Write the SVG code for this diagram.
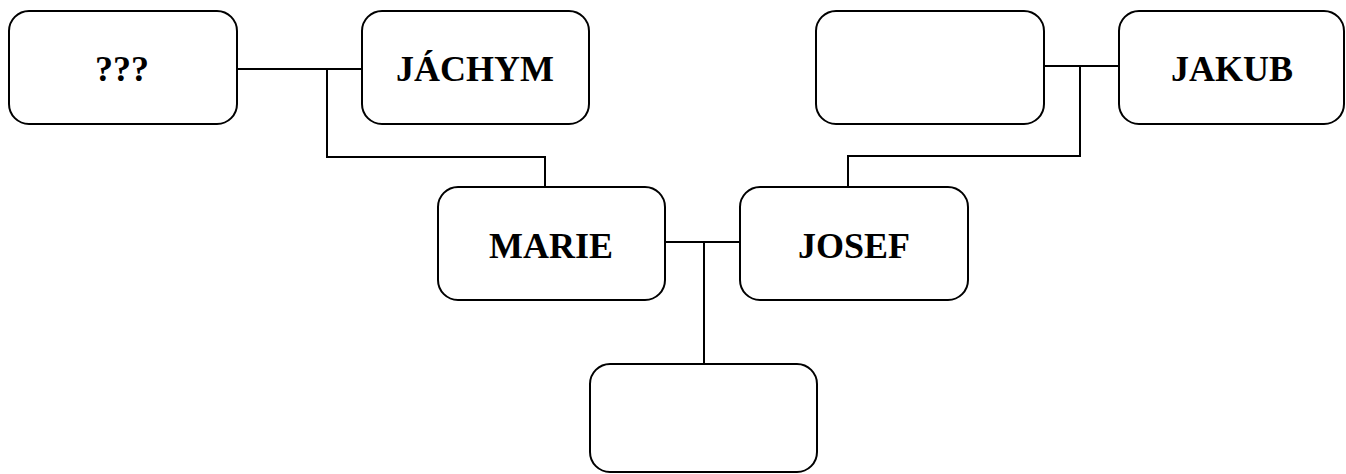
<svg xmlns="http://www.w3.org/2000/svg" width="1346" height="474" viewBox="0 0 1346 474">
<style>
.box{fill:#fff;stroke:#000;stroke-width:2}
.lbl{font-family:"Liberation Serif","Times New Roman",serif;font-weight:bold;font-size:36px;fill:#000;text-anchor:middle}
.con{fill:none;stroke:#000;stroke-width:2}
</style>
<rect width="1346" height="474" fill="#fff"/>
<g id="connectors">
<path class="con" d="M236 69H362M327 69V157H545V187"/>
<path class="con" d="M1044 66H1119M1080 66V156H848V187"/>
<path class="con" d="M665 242H740M704 242V364"/>
</g>
<g id="n-unknown"><rect class="box" x="9" y="11" width="228" height="113" rx="20"/><text class="lbl" x="122" y="81">???</text></g>
<g id="n-jachym"><rect class="box" x="362" y="11" width="227" height="113" rx="20"/><text class="lbl" x="475" y="81">JÁCHYM</text></g>
<g id="n-empty-top"><rect class="box" x="816" y="11" width="228" height="113" rx="20"/></g>
<g id="n-jakub"><rect class="box" x="1119" y="11" width="225" height="113" rx="20"/><text class="lbl" x="1232" y="81">JAKUB</text></g>
<g id="n-marie"><rect class="box" x="438" y="187" width="227" height="113" rx="20"/><text class="lbl" x="551" y="258">MARIE</text></g>
<g id="n-josef"><rect class="box" x="740" y="187" width="228" height="113" rx="20"/><text class="lbl" x="854" y="258">JOSEF</text></g>
<g id="n-child"><rect class="box" x="590" y="364" width="227" height="108" rx="20"/></g>
</svg>
